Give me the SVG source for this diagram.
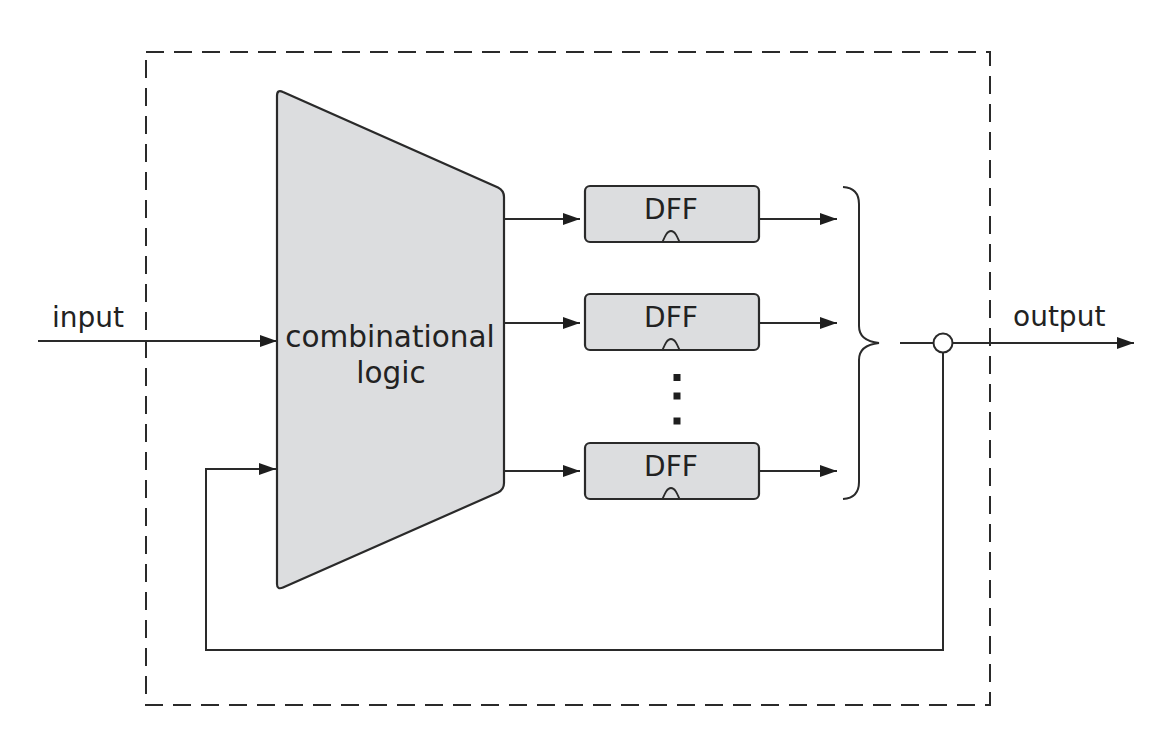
<svg xmlns="http://www.w3.org/2000/svg" width="1168" height="736" viewBox="0 0 1168 736">
  <defs>
    <marker id="arr" markerUnits="userSpaceOnUse" markerWidth="19" markerHeight="13" refX="17" refY="6" orient="auto">
      <path d="M0,0 L17,6 L0,12 Z" fill="#1e1e1e"/>
    </marker>
    <style>
      .ln { fill: none; stroke: #2a2a2a; stroke-width: 2; }
      .box { fill: #dcdddf; stroke: #2a2a2a; stroke-width: 2.2; }
      .clk { fill: none; stroke: #2a2a2a; stroke-width: 1.8; }
      .txt { font-family: "DejaVu Sans", "Liberation Sans", sans-serif; font-size: 28px; fill: #222; }
      .big { font-size: 29.5px; }
      .dash { fill: none; stroke: #2a2a2a; stroke-width: 2; stroke-dasharray: 18 10; }
    </style>
  </defs>
  <rect width="1168" height="736" fill="#ffffff"/>

  <g id="boundary">
    <rect class="dash" x="146" y="52" width="844" height="653"/>
  </g>

  <g id="connectors">
    <path class="ln" d="M38,341 L277,341" marker-end="url(#arr)"/>
    <path class="ln" d="M504,219 L580,219" marker-end="url(#arr)"/>
    <path class="ln" d="M504,323 L580,323" marker-end="url(#arr)"/>
    <path class="ln" d="M504,471 L580,471" marker-end="url(#arr)"/>
    <path class="ln" d="M759,219 L837,219" marker-end="url(#arr)"/>
    <path class="ln" d="M759,323 L837,323" marker-end="url(#arr)"/>
    <path class="ln" d="M759,471 L837,471" marker-end="url(#arr)"/>
    <path class="ln" d="M900,343 L933.5,343"/>
    <path class="ln" d="M952.5,343 L1134,343" marker-end="url(#arr)"/>
    <path class="ln" d="M943,352.5 L943,650 L206,650 L206,469 L276,469" marker-end="url(#arr)"/>
  </g>

  <g id="input-label">
    <text class="txt" x="52" y="327">input</text>
  </g>

  <g id="combinational-logic">
    <path class="box" d="M277,584 L277,96 Q277,89 283,92 L498,187.5 Q504,190.5 504,197 L504,483 Q504,489.5 498,492.5 L283,587.5 Q277,590 277,584 Z"/>
    <text class="txt big" x="390" y="347" text-anchor="middle">combinational</text>
    <text class="txt big" x="391" y="383" text-anchor="middle">logic</text>
  </g>

  <g id="dff1">
    <rect class="box" x="585" y="186" width="174" height="56" rx="5"/>
    <text class="txt" x="671" y="219" text-anchor="middle">DFF</text>
    <path class="clk" d="M662.5,242 C665,236 667,231 671,231 C675,231 677,236 679.5,242"/>
  </g>

  <g id="dff2">
    <rect class="box" x="585" y="294" width="174" height="56" rx="5"/>
    <text class="txt" x="671" y="327" text-anchor="middle">DFF</text>
    <path class="clk" d="M662.5,350 C665,344 667,339 671,339 C675,339 677,344 679.5,350"/>
  </g>

  <g id="ellipsis">
    <rect x="673.5" y="374" width="7" height="7" fill="#1e1e1e"/>
    <rect x="673.5" y="392.5" width="7" height="7" fill="#1e1e1e"/>
    <rect x="673.5" y="417.5" width="7" height="7" fill="#1e1e1e"/>
  </g>

  <g id="dff3">
    <rect class="box" x="585" y="443" width="174" height="56" rx="5"/>
    <text class="txt" x="671" y="476" text-anchor="middle">DFF</text>
    <path class="clk" d="M662.5,499 C665,493 667,488 671,488 C675,488 677,493 679.5,499"/>
  </g>

  <g id="brace">
    <path class="ln" d="M843,187 Q859,188 859,204 L859,326 Q859,341 879,343 Q859,345 859,360 L859,482 Q859,498 843,499"/>
  </g>

  <g id="junction">
    <circle cx="943" cy="343" r="9.5" fill="#ffffff" stroke="#2a2a2a" stroke-width="2"/>
  </g>

  <g id="output-label">
    <text class="txt" x="1013" y="326">output</text>
  </g>
</svg>
